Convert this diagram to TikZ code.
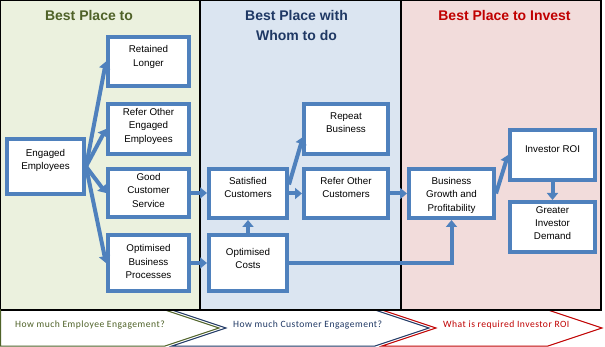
\documentclass[tikz,border=0pt]{standalone}
\usepackage{fontspec}
\setmainfont{Liberation Sans}
\newfontfamily\bandfont{Carlito}[LetterSpace=5]
\usetikzlibrary{arrows.meta,calc}
\definecolor{pgreen}{HTML}{EBF1DE}
\definecolor{pblue}{HTML}{DBE5F1}
\definecolor{pred}{HTML}{F2DCDB}
\definecolor{tgreen}{HTML}{4F6228}
\definecolor{tnavy}{HTML}{1F3864}
\definecolor{tred}{HTML}{C00000}
\definecolor{boxblue}{HTML}{4F81BD}
\begin{document}
\begin{tikzpicture}[x=1pt,y=-1pt,
  panel/.style={draw=black, line width=1.2pt},
  box/.style={draw=boxblue, line width=4pt, fill=white, inner sep=0pt},
  lbl/.style={anchor=north, align=center, inner sep=0pt, font=\fontsize{9.8}{13.4}\selectfont},
  ttl/.style={anchor=north, align=center, inner sep=0pt, font=\fontsize{14}{20}\selectfont\bfseries},
  arr/.style={draw=boxblue, line width=4pt, -{Triangle[length=7pt,width=11pt]}},
  chev/.style={line width=1pt, fill=white},
  band/.style={anchor=base west, inner sep=0pt, font=\bandfont\fontsize{9.6}{11}\selectfont}]
\useasboundingbox (0,0) rectangle (605,347);
\fill[white] (0,0) rectangle (605,347);
% panels
\filldraw[panel, fill=pgreen] (0.6,0.6) rectangle (200,310);
\filldraw[panel, fill=pblue] (200,0.6) rectangle (401,310);
\filldraw[panel, fill=pred] (401,0.6) rectangle (601,310);
% titles
\node[ttl, text=tgreen] (t1) at (89,10) {Best Place to};
\node[ttl, text=tnavy] (t2) at (296.5,10) {Best Place with\\Whom to do};
\node[ttl, text=tred] (t3) at (504.5,10) {Best Place to Invest};
% boxes
\node[box, minimum width=77pt, minimum height=55pt] (ee) at (45.5,166.5) {};
\node[box, minimum width=81pt, minimum height=49pt] (rl) at (148.5,61.5) {};
\node[box, minimum width=81pt, minimum height=50pt] (roe) at (148.5,129) {};
\node[box, minimum width=81pt, minimum height=48pt] (gcs) at (148.5,193) {};
\node[box, minimum width=81pt, minimum height=56pt] (obp) at (148.5,263) {};
\node[box, minimum width=84pt, minimum height=50pt] (rb) at (346,129) {};
\node[box, minimum width=78pt, minimum height=49pt] (sc) at (248,193.5) {};
\node[box, minimum width=84pt, minimum height=49pt] (roc) at (346,193.5) {};
\node[box, minimum width=78pt, minimum height=56pt] (oc) at (248,263) {};
\node[box, minimum width=85pt, minimum height=49pt] (bg) at (451.5,193.5) {};
\node[box, minimum width=85pt, minimum height=50pt] (roi) at (552.5,155) {};
\node[box, minimum width=85pt, minimum height=50pt] (gid) at (552.5,227) {};
% labels
\node[lbl] (eet) at (45.5,149.3) {Engaged\\Employees};
\node[lbl] (rlt) at (148.5,45.7) {Retained\\Longer};
\node[lbl] (roet) at (148.5,108) {Refer Other\\Engaged\\Employees};
\node[lbl] (gcst) at (148.5,173.3) {Good\\Customer\\Service};
\node[lbl] (obpt) at (148.5,244.3) {Optimised\\Business\\Processes};
\node[lbl] (rbt) at (346,112.3) {Repeat\\Business};
\node[lbl] (sct) at (248,177.3) {Satisfied\\Customers};
\node[lbl] (roct) at (346,177.3) {Refer Other\\Customers};
\node[lbl] (oct) at (248,247.7) {Optimised\\Costs};
\node[lbl] (bgt) at (451.5,177.3) {Business\\Growth and\\Profitability};
\node[lbl] (roit) at (552.5,145) {Investor ROI};
\node[lbl] (gidt) at (552.5,206) {Greater\\Investor\\Demand};
% arrows
\draw[arr] (ee.east) -- (rl.west);
\draw[arr] (ee.east) -- (roe.west);
\draw[arr] (ee.east) -- (gcs.west);
\draw[arr] (ee.east) -- (obp.west);
\draw[arr] (gcs.east) -- (sc.west |- gcs.east);
\draw[arr] (obp.east) -- (oc.west);
\draw[arr] (oc.north) -- (sc.south);
\draw[arr] ($(sc.east)+(0,-9)$) -- ($(rb.west)+(1,8)$);
\draw[arr] (sc.east) -- (roc.west);
\draw[arr] (roc.east) -- (bg.west);
\draw[arr] (oc.east) -| (bg.south);
\draw[arr] (bg.east) -- (roi.west);
\draw[arr] (roi.south) -- (gid.north);
% bottom chevrons
\filldraw[chev, draw=tred] (382,310) -- (548,310) -- (602,328) -- (548,346) -- (382,346) -- (436,328) -- cycle;
\filldraw[chev, draw=tnavy] (172,310) -- (375,310) -- (429,328) -- (375,346) -- (172,346) -- (226,328) -- cycle;
\filldraw[chev, draw=tgreen] (0.6,310) -- (165,310) -- (219,328) -- (165,346) -- (0.6,346) -- cycle;
\draw[panel] (0.6,310) -- (601,310);
\node[band, text=tgreen] (b1) at (15,327.5) {How much Employee Engagement?};
\node[band, text=tnavy] (b2) at (233,327.5) {How much Customer Engagement?};
\node[band, text=tred] (b3) at (443,327.5) {What is required Investor ROI};
\end{tikzpicture}
\end{document}
